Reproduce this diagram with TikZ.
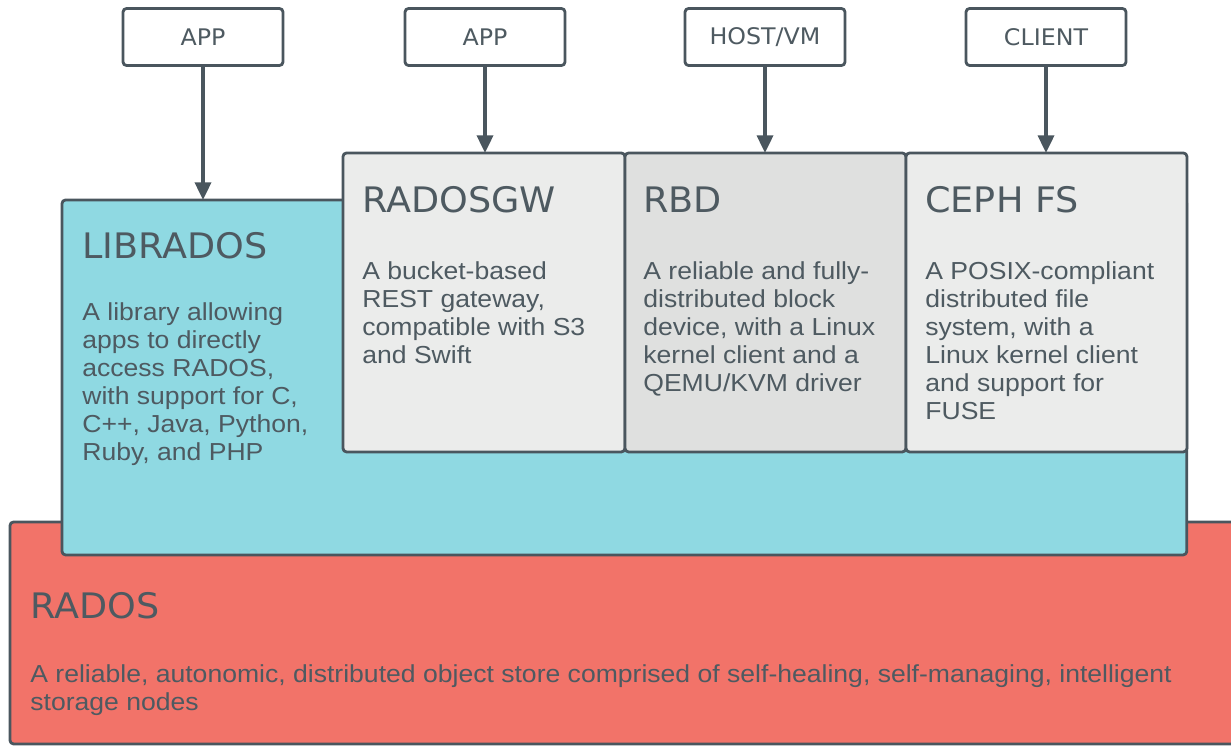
\documentclass[tikz,border=0pt]{standalone}
\usepackage{fontspec}
\setmainfont[FakeStretch=1.08]{Liberation Sans}
\newfontfamily\titlefont[FakeStretch=1.04]{DejaVu Sans}
\usetikzlibrary{arrows.meta}
\definecolor{edge}{HTML}{4A565E}
\definecolor{ink}{HTML}{4E5A61}
\definecolor{libcyan}{HTML}{8FD9E2}
\definecolor{radosred}{HTML}{F27369}
\definecolor{boxgrey}{HTML}{EBECEB}
\definecolor{rbdgrey}{HTML}{DFE0DF}
\begin{document}
\begin{tikzpicture}[x=0.02cm,y=-0.02cm,>={Triangle[length=10pt,width=9pt]},line join=round,
 layer/.style={draw=edge,line width=1.6pt,rounded corners=2pt,inner sep=0pt,outer sep=0pt,anchor=north west},
 user/.style={layer,fill=white,anchor=center,minimum width=3.2cm,minimum height=1.14cm,text=ink,font=\titlefont\fontsize{13}{13}\selectfont},
 title/.style={anchor=base west,inner sep=0pt,text=ink,font=\titlefont\fontsize{20}{20}\selectfont},
 blurb/.style={anchor=north west,inner sep=0pt,align=left,text=ink,font=\fontsize{14}{16}\selectfont},
 flow/.style={->,draw=edge,line width=2.2pt}]
 \useasboundingbox (0,0) rectangle (1231,746);
 % stacked layers
 \node[layer,fill=radosred,minimum width=25cm,minimum height=4.44cm] (rados) at (10,522) {};
 \node[layer,fill=libcyan,minimum width=22.5cm,minimum height=7.1cm] (librados) at (62,200) {};
 \node[layer,fill=boxgrey,minimum width=5.64cm,minimum height=5.98cm] (rgw) at (343,153) {};
 \node[layer,fill=rbdgrey,minimum width=5.62cm,minimum height=5.98cm] (rbd) at (625,153) {};
 \node[layer,fill=boxgrey,minimum width=5.62cm,minimum height=5.98cm] (cephfs) at (906,153) {};
 % users on top
 \foreach \n/\x/\t in {app1/203/APP, app2/485/APP, host/765/{HOST/VM}, client/1046/CLIENT}
 \node[user] (\n) at (\x,37) {\t};
 \foreach \a/\b in {app1/librados, app2/rgw, host/rbd, client/cephfs}
 \draw[flow] (\a.south) -- (\a.south |- \b.north);
 % names
 \node[title] (libradosname) at (82,259) {LIBRADOS};
 \node[title] (rgwname) at (362,213) {RADOSGW};
 \node[title] (rbdname) at (643,213) {RBD};
 \node[title] (cephfsname) at (925,213) {CEPH FS};
 \node[title] (radosname) at (30,618) {RADOS};
 % descriptions
 \node[blurb] (libradostext) at (82,302) {A library allowing\\apps to directly\\access RADOS,\\with support for C,\\C++, Java, Python,\\Ruby, and PHP};
 \node[blurb] (rgwtext) at (362,261) {A bucket-based\\REST gateway,\\compatible with S3\\and Swift};
 \node[blurb] (rbdtext) at (643,261) {A reliable and fully-\\distributed block\\device, with a Linux\\kernel client and a\\QEMU/KVM driver};
 \node[blurb] (cephfstext) at (925,261) {A POSIX-compliant\\distributed file\\system, with a\\Linux kernel client\\and support for\\FUSE};
 \node[blurb] (radostext) at (30,664) {A reliable, autonomic, distributed object store comprised of self-healing, self-managing, intelligent\\storage nodes};
\end{tikzpicture}
\end{document}
